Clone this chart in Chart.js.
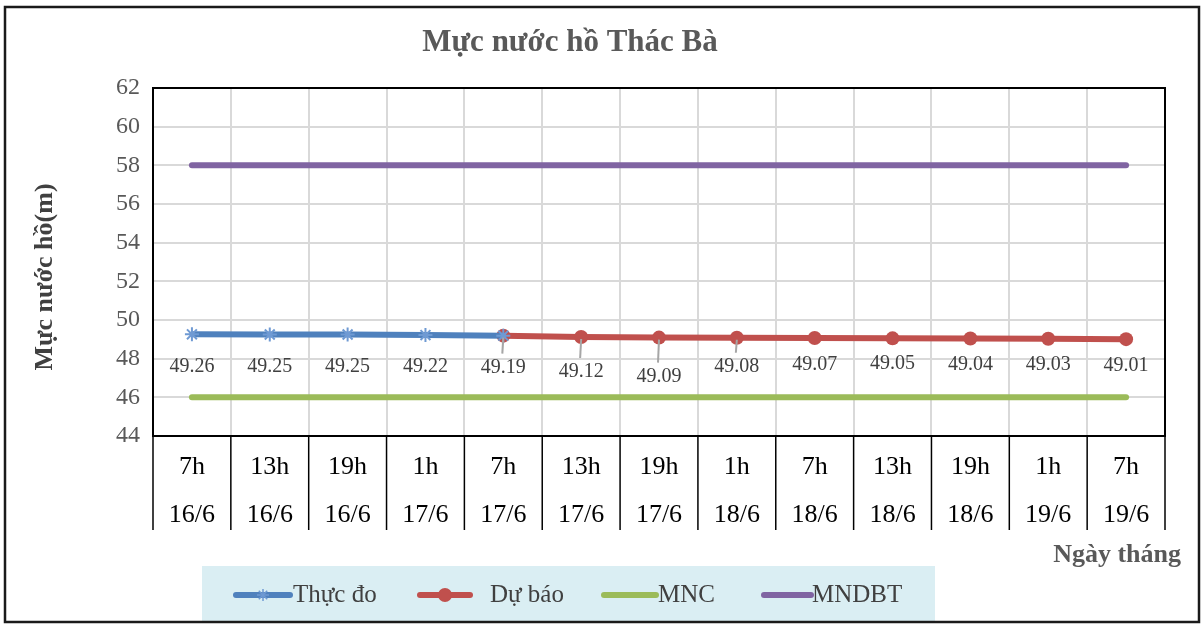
<!DOCTYPE html>
<html>
<head>
<meta charset="utf-8">
<script src="https://cdn.jsdelivr.net/npm/chart.js@4.4.1/dist/chart.umd.min.js"></script>
<style>
html,body{margin:0;padding:0;background:#fff;}
#wrap{width:1204px;height:626px;position:relative;}
canvas{display:block;}
</style>
</head>
<body>
<div id="wrap"><canvas id="c" width="1204" height="626"></canvas></div>
<script>
// ---- data ----
const hours = ['7h','13h','19h','1h','7h','13h','19h','1h','7h','13h','19h','1h','7h'];
const dates = ['16/6','16/6','16/6','17/6','17/6','17/6','17/6','18/6','18/6','18/6','18/6','19/6','19/6'];
const thucDo = [49.26, 49.25, 49.25, 49.22, 49.19, null, null, null, null, null, null, null, null];
const duBao = [null, null, null, null, 49.19, 49.12, 49.09, 49.08, 49.07, 49.05, 49.04, 49.03, 49.01];
const mnc = [46, 46, 46, 46, 46, 46, 46, 46, 46, 46, 46, 46, 46];
const mndbt = [58, 58, 58, 58, 58, 58, 58, 58, 58, 58, 58, 58, 58];
const yTicks = [44, 46, 48, 50, 52, 54, 56, 58, 60, 62];

const labels = hours.map((h, i) => [h, dates[i]]);
const SERIF = '"Liberation Serif", "DejaVu Serif", serif';
const BLUE = '#4F81BD', RED = '#C0504D', GREEN = '#9BBB59', PURPLE = '#8064A2';

// label vertical offsets (px below point) and leader lines, per category
const labelDy = [32, 32, 32, 32, 32, 35, 39, 29, 27, 25, 26, 26, 27];
const leader = [false, false, false, false, true, true, true, true, false, false, false, false, false];

const decor = {
  id: 'decor',
  beforeDraw(chart) {
    const ctx = chart.ctx;
    ctx.save();
    ctx.fillStyle = '#fff';
    ctx.fillRect(0, 0, chart.width, chart.height);
    ctx.restore();
  },
  afterDraw(chart) {
    const ctx = chart.ctx;
    const ca = chart.chartArea;
    const xs = chart.scales.x, ys = chart.scales.y;
    ctx.save();
    // plot border
    ctx.strokeStyle = '#000';
    ctx.lineWidth = 2;
    ctx.strokeRect(ca.left, ca.top, ca.right - ca.left, ca.bottom - ca.top);
    // separators below the axis between categories
    const n = labels.length;
    const half = (xs.getPixelForValue(1) - xs.getPixelForValue(0)) / 2;
    ctx.lineWidth = 1.5;
    for (let i = 0; i <= n; i++) {
      const x = i < n ? xs.getPixelForValue(i) - half : xs.getPixelForValue(n - 1) + half;
      ctx.beginPath();
      ctx.moveTo(x, ca.bottom);
      ctx.lineTo(x, ca.bottom + 94);
      ctx.stroke();
    }
    // data labels
    ctx.font = '20px ' + SERIF;
    ctx.fillStyle = '#404040';
    ctx.textAlign = 'center';
    ctx.textBaseline = 'middle';
    for (let i = 0; i < n; i++) {
      const v = i < 4 ? thucDo[i] : duBao[i];
      const x = xs.getPixelForValue(i);
      const y = ys.getPixelForValue(v);
      if (leader[i]) {
        ctx.strokeStyle = '#A6A6A6';
        ctx.lineWidth = 2;
        ctx.beginPath();
        ctx.moveTo(x, y + 2);
        ctx.lineTo(x - 1, y + labelDy[i] - 14);
        ctx.stroke();
      }
      ctx.fillText(v.toFixed(2), x, y + labelDy[i]);
    }
    // title
    ctx.fillStyle = '#595959';
    ctx.font = 'bold 31px ' + SERIF;
    ctx.textAlign = 'center';
    ctx.fillText('Mực nước hồ Thác Bà', 570, 43);
    // y axis title
    ctx.save();
    ctx.translate(45, 277);
    ctx.rotate(-Math.PI / 2);
    ctx.font = 'bold 26px ' + SERIF;
    ctx.fillStyle = '#404040';
    ctx.fillText('Mực nước hồ(m)', 0, 0);
    ctx.restore();
    // x axis title
    ctx.font = 'bold 26px ' + SERIF;
    ctx.fillStyle = '#595959';
    ctx.textAlign = 'right';
    ctx.fillText('Ngày tháng', 1181, 555);
    // legend
    ctx.fillStyle = '#DAEEF3';
    ctx.fillRect(202, 566, 733, 56);
    const ly = 595;
    const items = [
      {x1: 236, x2: 290, color: BLUE, mark: 'star', text: 'Thực đo', tx: 293},
      {x1: 420, x2: 470, color: RED, mark: 'circle', text: 'Dự báo', tx: 490},
      {x1: 604, x2: 656, color: GREEN, mark: null, text: 'MNC', tx: 658},
      {x1: 764, x2: 811, color: PURPLE, mark: null, text: 'MNDBT', tx: 812}
    ];
    items.forEach(it => {
      ctx.strokeStyle = it.color;
      ctx.lineWidth = 6;
      ctx.lineCap = 'round';
      ctx.beginPath();
      ctx.moveTo(it.x1, ly);
      ctx.lineTo(it.x2, ly);
      ctx.stroke();
      const cx = (it.x1 + it.x2) / 2;
      if (it.mark === 'circle') {
        ctx.fillStyle = it.color;
        ctx.beginPath();
        ctx.arc(cx, ly, 7, 0, Math.PI * 2);
        ctx.fill();
      } else if (it.mark === 'star') {
        ctx.strokeStyle = '#6F9AD3';
        ctx.lineWidth = 1.5;
        ctx.lineCap = 'butt';
        for (let k = 0; k < 4; k++) {
          const a = k * Math.PI / 4;
          ctx.beginPath();
          ctx.moveTo(cx - 6 * Math.cos(a), ly - 6 * Math.sin(a));
          ctx.lineTo(cx + 6 * Math.cos(a), ly + 6 * Math.sin(a));
          ctx.stroke();
        }
      }
      ctx.fillStyle = '#404040';
      ctx.font = '25px ' + SERIF;
      ctx.textAlign = 'left';
      ctx.textBaseline = 'middle';
      ctx.fillText(it.text, it.tx, ly);
    });
    // outer frame
    ctx.strokeStyle = '#1a1a1a';
    ctx.lineWidth = 2.5;
    ctx.lineCap = 'butt';
    ctx.strokeRect(5, 7, 1194, 615);
    ctx.restore();
  }
};

new Chart(document.getElementById('c'), {
  type: 'line',
  data: {
    labels: labels,
    datasets: [
      {label: 'Thực đo', data: thucDo, borderColor: BLUE, backgroundColor: BLUE, borderWidth: 6,
       pointStyle: 'star', pointRadius: 7, pointBorderColor: '#6F9AD3', pointBorderWidth: 2, spanGaps: false, order: 1},
      {label: 'Dự báo', data: duBao, borderColor: RED, backgroundColor: RED, borderWidth: 6,
       pointStyle: 'circle', pointRadius: 7, pointBorderWidth: 0, order: 2},
      {label: 'MNC', data: mnc, borderColor: GREEN, borderWidth: 6, pointRadius: 0, borderCapStyle: 'round', order: 3},
      {label: 'MNDBT', data: mndbt, borderColor: PURPLE, borderWidth: 6, pointRadius: 0, borderCapStyle: 'round', order: 4}
    ]
  },
  options: {
    responsive: false,
    animation: false,
    events: [],
    layout: {padding: {left: 0, top: 88, right: 39, bottom: 0}},
    plugins: {legend: {display: false}, title: {display: false}, tooltip: {enabled: false}},
    scales: {
      x: {
        type: 'category',
        offset: true,
        grid: {offset: true, color: '#D9D9D9', lineWidth: 2, drawTicks: false},
        border: {display: true, color: '#000', width: 2},
        ticks: {
          color: '#000', padding: 7, maxRotation: 0, autoSkip: false,
          font: {family: SERIF, size: 26, lineHeight: 1.85}
        },
        afterFit(s) { s.height = 626 - 436; }
      },
      y: {
        min: 44, max: 62,
        afterBuildTicks(s) { s.ticks = yTicks.map(v => ({value: v})); },
        grid: {color: '#D9D9D9', lineWidth: 2, drawTicks: false},
        border: {display: true, color: '#000', width: 2},
        ticks: {color: '#595959', padding: 13, font: {family: SERIF, size: 24}},
        afterFit(s) { s.width = 153; }
      }
    }
  },
  plugins: [decor]
});
</script>
</body>
</html>
